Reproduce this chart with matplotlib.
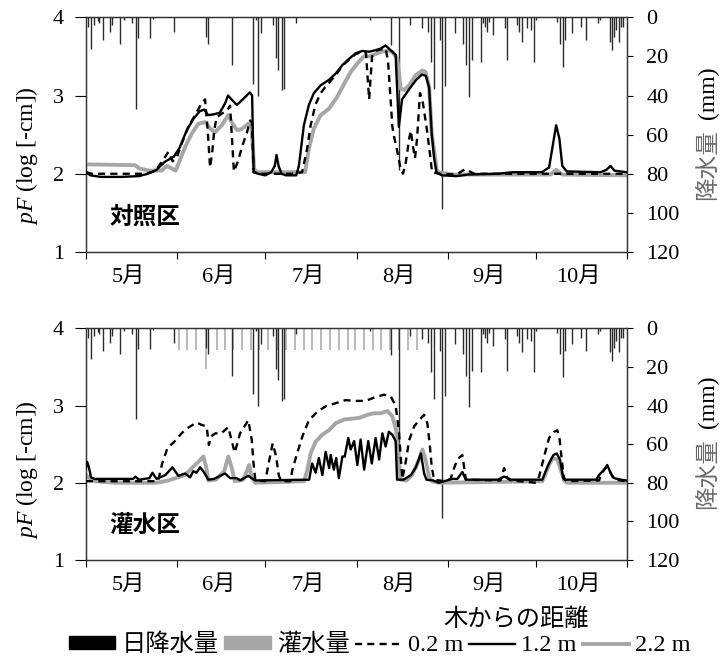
import matplotlib
matplotlib.use('Agg')
import matplotlib.pyplot as plt
from matplotlib.lines import Line2D
from matplotlib.patches import Patch

plt.rcParams['font.family'] = ['Liberation Serif', 'Noto Sans CJK JP']
plt.rcParams['mathtext.fontset'] = 'custom'
plt.rcParams['mathtext.it'] = 'Liberation Serif:italic'
plt.rcParams['mathtext.rm'] = 'Liberation Serif'

# ---------------- data (day 0 = 1 May) ----------------
month_starts = [0, 31, 61, 92, 123, 153, 184]
month_labels = ['5月', '6月', '7月', '8月', '9月', '10月']

rain_day = [0.8, 1.8, 2.6, 4.0, 4.5, 5.7, 8.1, 8.8, 11.6, 13.0,
            15.6, 17.0, 17.8, 21.9, 22.8, 29.9, 40.7, 41.4, 49.6, 56.7,
            57.7, 58.5, 59.4, 63.5, 64.7, 65.4, 66.6, 67.4, 71.4, 96.5,
            103.6, 106.3, 110.3, 114.2, 116.4, 117.3, 118.3, 120.4, 121.2, 122.2,
            125.5, 128.1, 129.4, 130.3, 131.2, 134.4, 135.0, 135.8, 136.4, 137.1,
            138.4, 142.4, 143.3, 146.6, 147.4, 148.2, 150.1, 151.3, 152.3, 153.1,
            160.3, 161.2, 162.1, 163.0, 165.2, 168.3, 170.2, 174.0, 174.7, 178.1,
            178.9, 179.6, 180.4, 181.3, 182.0, 182.7]
rain_mm = [4.8, 16, 4, 2, 3, 11.7, 7.4, 4, 13.4, 1.4,
           3, 46.8, 10.8, 10.8, 1, 7.7, 10, 13.4, 24.5, 34,
           1.4, 40, 8, 4, 21, 27, 37.4, 36.5, 3, 1.4,
           14, 78, 4, 5.7, 7.4, 22.8, 36.5, 11.7, 98, 35,
           8.2, 13.4, 24.5, 40.8, 22, 22.8, 3, 4.8, 7.4, 2.2,
           9, 5.7, 22, 4, 7.4, 12.5, 5.7, 6.5, 22.8, 1.4,
           2.2, 13.4, 25.4, 11.7, 8.2, 4.8, 11.7, 3, 1.4, 12.5,
           16.8, 10, 6.5, 12.5, 4.8, 4.8]

irr_day = [31.5, 34.5, 37.5, 40.7, 44.5, 47.3, 50, 53, 56, 59, 62, 65, 68, 71,
           74, 77, 80, 83, 86, 89, 91.5, 94.5, 97.5, 100.5, 103.5, 106.5, 109.6, 112.7]
irr_mm = [11, 11, 11, 21, 11, 11, 11, 11, 11, 11, 11, 11, 11, 11,
          11, 11, 11, 11, 11, 11, 11, 11, 11, 11, 11, 11, 11, 11]

# ---- control plot (対照区) ----
top_d02 = [0, 2, 10, 20, 23.5, 26.3, 28.0, 29.4, 30.8, 32.5, 34.8, 37.1, 39.3, 40.5,
           41.4, 42.2, 43.0, 43.6, 44.4, 46.2, 47.8, 49.0, 49.5, 50.3, 51.8, 53.0,
           54.7, 55.8, 56.4, 57.0, 60, 65, 70, 73.5, 74.7, 75.2, 76.4, 78.0, 79.8,
           81.4, 84.9, 87.2, 89.5, 91.7, 94.0, 95.2, 96.3, 97.3, 98.5, 100.2, 101.9,
           102.7, 103.6, 104.2, 104.8, 105.8, 106.8, 107.8, 108.8, 109.9, 110.5,
           111.2, 111.9, 112.6, 113.6, 114.6, 116.0, 117.0, 117.7, 120, 126, 129,
           132, 150, 183.7]
top_v02 = [2.02, 2.0, 2.0, 2.0, 2.03, 2.18, 2.28, 2.16, 2.2, 2.38, 2.6, 2.75, 2.9, 2.95,
           2.55, 2.08, 2.3, 2.55, 2.72, 2.77, 2.8, 2.87, 2.55, 2.03, 2.17, 2.34,
           2.52, 2.68, 2.66, 2.02, 2.0, 2.0, 2.0, 2.02, 2.23, 2.32, 2.62, 2.88, 3.03,
           3.11, 3.26, 3.38, 3.46, 3.53, 3.56, 3.55, 2.95, 3.5, 3.57, 3.59, 3.6,
           3.45, 2.95, 2.6, 2.47, 2.3, 2.1, 2.0, 2.15, 2.45, 2.55,
           2.35, 2.2, 2.45, 3.03, 2.9, 2.55, 2.25, 2.02, 2.0, 1.99, 2.06,
           2.0, 2.0, 2.0]

top_d12 = [0, 1.5, 5, 12, 18, 21, 24, 26.7, 29.9, 31.8, 34.2, 36.5, 38.7, 40.2, 41.5,
           43.5, 45.5, 47.3, 48.3, 49.5, 51.3, 53.3, 55.7, 56.5, 57.0, 58.5, 61,
           63, 64.2, 64.8, 65.5, 66.5, 68, 71.5, 72.4, 74.1, 75.8, 77.5, 79.8, 82.6,
           84.9, 87.2, 89.5, 91.7, 94.0, 96.3, 98.5, 100.2, 101.9, 103.6, 105.3,
           106.4, 107.5, 109.9, 112.3, 114.3, 115.6, 116.7, 117.6, 118.4, 119.2,
           121, 126, 130, 140, 145, 155, 157.5, 158.7, 159.9, 161.0, 162.0, 163.5,
           175, 177, 178.4, 179.7, 183.7]
top_v12 = [2.02, 1.98, 1.96, 1.96, 1.97, 2.0, 2.05, 2.15, 2.22, 2.33, 2.55, 2.7, 2.8, 2.82, 2.75,
           2.76, 2.78, 2.9, 3.0, 2.95, 2.88, 2.95, 3.04, 3.0, 2.02, 2.0, 1.98,
           2.02, 2.1, 2.24, 2.1, 2.0, 1.98, 1.98, 2.1, 2.62, 2.88, 3.03, 3.13, 3.2,
           3.28, 3.39, 3.47, 3.54, 3.57, 3.56, 3.58, 3.6, 3.64, 3.58, 3.52,
           2.6, 2.95, 3.08, 3.2, 3.27, 3.25, 3.1, 2.5, 2.2, 2.02,
           1.98, 1.97, 1.99, 2.0, 2.02, 2.02, 2.08, 2.35, 2.62, 2.45, 2.1, 2.03,
           2.02, 2.05, 2.1, 2.04, 2.02]

top_d22 = [0, 16.7, 18, 21.4, 25.7, 27.5, 30.5, 33.7, 35.9, 38.2, 40.5, 42.2, 43.9,
           46.2, 48.4, 49.7, 51.3, 52.9, 55.2, 56.3, 57.2, 58.2, 74.5, 75.8, 77.5,
           79.8, 82.6, 85.4, 87.8, 90.0, 92.3, 94.5, 96.3, 98.5, 100.2, 102.5,
           104.2, 105.9, 107.0, 108.2, 109.9, 112.1, 114.4, 115.5, 116.7, 117.6,
           118.4, 119.4, 125, 158, 159.9, 162, 183.7]
top_v22 = [2.12, 2.11, 2.07, 2.04, 2.04, 2.1, 2.04, 2.34, 2.51, 2.64, 2.66, 2.58, 2.53,
           2.62, 2.75, 2.65, 2.56, 2.57, 2.64, 2.6, 2.06, 2.02, 2.02, 2.32, 2.58,
           2.75, 2.83, 2.98, 3.15, 3.3, 3.41, 3.5, 3.5, 3.53, 3.56, 3.57,
           3.56, 3.47, 3.09, 3.07, 3.13, 3.26, 3.32, 3.3, 3.11, 2.51,
           2.3, 2.02, 1.99, 1.99, 2.05, 1.99, 1.98]

# ---- irrigated plot (灌水区) ----
bot_d02 = [0, 24.5, 25.9, 27.7, 30.0, 32.5, 34.2, 37.6, 39.3, 41.0, 41.8, 42.5, 44.0,
           46.0, 48.4, 49.5, 50.6, 52.4, 55.2, 56.4, 56.9, 57.6, 61.0, 62.1, 63.5,
           64.6, 65.6, 66.5, 69.5, 70.2, 71.8, 73.6, 75.8, 78.7, 81.5, 84.9, 88.3,
           91.7, 95.1, 98.5, 101.3, 103.6, 105.3, 106.4, 107.0, 107.6, 108.7,
           109.9, 111.6, 113.3, 115.0, 116.1, 116.9, 117.6, 118.4, 122, 124,
           125.2, 126.3, 128.0, 128.6, 129.2, 141, 142.2, 143.3, 144.5, 153,
           154.1, 155.8, 157.5, 159.2, 160.3, 161.1, 161.8, 162.6, 163.5, 174.5,
           175.1, 176.8, 177.9, 179.6, 183.7]
bot_v02 = [2.02, 2.02, 2.25, 2.45, 2.53, 2.64, 2.7, 2.78, 2.75, 2.73, 2.49, 2.6, 2.64,
           2.64, 2.72, 2.55, 2.39, 2.64, 2.81, 2.55, 2.28, 2.03, 2.02, 2.25, 2.51,
           2.35, 2.09, 2.02, 2.02, 2.17, 2.38, 2.6, 2.81, 2.92, 2.99, 3.03, 3.07,
           3.06, 3.06, 3.11, 3.14, 3.12, 3.0, 2.68, 2.35, 2.05, 2.26,
           2.55, 2.73, 2.81, 2.88, 2.77, 2.5, 2.2, 2.04, 2.02, 2.05,
           2.19, 2.3, 2.36, 2.2, 2.04, 2.03, 2.19, 2.06, 2.03, 2.0,
           2.08, 2.34, 2.58, 2.66, 2.68, 2.56, 2.3, 2.05, 2.02, 2.03,
           2.1, 2.2, 2.17, 2.04, 2.02]

bot_d12 = [0, 0.4, 1.0, 1.7, 3, 16, 16.8, 18, 21.6, 22.6, 24, 27, 29.4, 31.4, 33.7,
           35.4, 36.5, 37.6, 38.8, 39.9, 41.6, 43.5, 47.3, 49.0, 51.3, 52.4, 55.2,
           56.3, 57.6, 75.9, 76.9, 78.1, 79.2, 80.4, 81.5, 82.7, 83.2, 84.3, 85.1,
           86.0, 87.2, 88.0, 89.2, 90.0, 91.2, 92.3, 93.4, 94.6, 96.0, 97.2, 98.5,
           99.7, 100.8, 101.9, 103.0, 104.2, 105.3, 105.8, 108, 110.5, 112.2,
           113.9, 115.0, 115.8, 118, 120, 124.6, 126.3, 128.0, 129.2, 140, 142.2,
           144.5, 155.2, 157.3, 159.0, 160.1, 161.2, 162.3, 163.3, 173.5, 174.5,
           176.2, 177.3, 178.5, 179.6, 181.9, 183.7]
bot_v12 = [2.2, 2.27, 2.2, 2.07, 2.05, 2.05, 2.08, 2.04, 2.06, 2.13, 2.05, 2.1, 2.2, 2.09, 2.12,
           2.07, 2.15, 2.13, 2.2, 2.15, 2.04, 2.05, 2.12, 2.06, 2.06, 2.03, 2.09,
           2.06, 2.03, 2.04, 2.25, 2.13, 2.32, 2.1, 2.4, 2.19, 2.36, 2.17, 2.32,
           2.06, 2.34, 2.34, 2.58, 2.43, 2.54, 2.23, 2.56, 2.17, 2.54, 2.25, 2.58,
           2.3, 2.64, 2.47, 2.66, 2.62, 2.54, 2.04, 2.04, 2.1, 2.2,
           2.38, 2.12, 2.04, 2.03, 2.0, 2.05, 2.05, 2.14, 2.04, 2.04, 2.08,
           2.04, 2.04, 2.24, 2.36, 2.38, 2.3, 2.06, 2.04, 2.04, 2.1,
           2.17, 2.23, 2.12, 2.06, 2.04, 2.03]

bot_d22 = [0, 1.5, 3, 10, 24, 28, 33.7, 36.0, 38.2, 39.9, 40.9, 41.6, 44.2, 47.0, 48.4,
           49.5, 50.6, 53.5, 54.7, 55.5, 56.3, 57.5, 74.2, 75.3, 76.4, 78.1, 80.3,
           82.6, 84.9, 87.8, 90.6, 92.9, 95.7, 97.9, 100.2, 102.5, 104.2, 105.5,
           106.4, 107.0, 109.0, 110.9, 113.3, 114.4, 115.5, 116.7, 117.7, 120,
           155.2, 157.5, 158.7, 160.3, 161.5, 162.6, 163.5, 183.7]
bot_v22 = [2.1, 2.05, 2.02, 2.0, 2.0, 2.03, 2.1, 2.19, 2.27, 2.34, 2.2, 2.03, 2.04, 2.15, 2.34,
           2.2, 2.02, 2.04, 2.15, 2.23, 2.08, 2.0, 2.02, 2.17, 2.38, 2.53, 2.62,
           2.68, 2.77, 2.82, 2.83, 2.84, 2.88, 2.9, 2.9, 2.93, 2.86, 2.68,
           2.3, 2.04, 2.03, 2.1, 2.3, 2.43, 2.3, 2.07, 2.02, 2.0,
           2.02, 2.23, 2.32, 2.3, 2.17, 2.03, 2.0, 2.0]

# ---------------- figure ----------------
W, H = 725, 657
fig = plt.figure(figsize=(W / 100, H / 100), dpi=100)

GRAY = '#a6a6a6'
TICK_FS = 16


def panel(rect, d02, v02, d12, v12, d22, v22, label, irrigation):
    ax = fig.add_axes(rect)
    axr = ax.twinx()
    # precipitation (secondary, inverted)
    axr.set_ylim(120, 0)
    if irrigation:
        axr.vlines(irr_day, 0, irr_mm, color='#b3b3b3', lw=1.3, zorder=1)
    axr.vlines(rain_day, 0, rain_mm, color='#2a2a2a', lw=1.0, zorder=2)
    axr.set_yticks([0, 20, 40, 60, 80, 100, 120])
    axr.tick_params(axis='y', direction='out', length=4, pad=10,
                    labelsize=TICK_FS, width=0.8)
    # pF curves above rain
    ax.set_zorder(axr.get_zorder() + 1)
    ax.patch.set_visible(False)
    ax.plot(d22, v22, color=GRAY, lw=2.8, solid_joinstyle='round', zorder=2)
    ax.plot(d12, v12, color='black', lw=1.7, zorder=3)
    ax.plot(d02, v02, color='black', lw=1.7, linestyle=(0, (3, 2.2)), zorder=4)
    ax.set_xlim(0, 184)
    ax.set_ylim(1, 4)
    ax.set_yticks([1, 2, 3, 4])
    ax.tick_params(axis='y', direction='out', length=8, pad=8,
                   labelsize=TICK_FS, width=0.8)
    ax.set_xticks(month_starts)
    ax.set_xticklabels([])
    ax.tick_params(axis='x', which='major', direction='out', length=5, width=0.8)
    mids = [(month_starts[i] + month_starts[i + 1]) / 2 - 1 for i in range(6)]
    ax.set_xticks(mids, minor=True)
    ax.set_xticklabels(month_labels, minor=True)
    ax.tick_params(axis='x', which='minor', length=0, pad=11, labelsize=TICK_FS)
    for a in (ax, axr):
        for s in a.spines.values():
            s.set_linewidth(0.9)
            s.set_color('#333333')
    ax.text(0.043, 0.15, label, transform=ax.transAxes, fontsize=17,
            fontweight='bold', va='center', ha='left',
            family=['Noto Sans CJK JP'])
    return ax, axr


ax_w = 541 / W
panel([86 / W, 1 - 252 / H, ax_w, 234.7 / H], top_d02, top_v02, top_d12, top_v12,
      top_d22, top_v22, '対照区', False)
panel([86 / W, 1 - 560 / H, ax_w, 231.7 / H], bot_d02, bot_v02, bot_d12, bot_v12,
      bot_d22, bot_v22, '灌水区', True)

# y labels
for yl, yr in ((156, 135), (470, 444)):
    fig.text(27 / W, 1 - yl / H, r'$pF$ (log [-cm])', rotation=90, fontsize=17,
             ha='center', va='center')
    fig.text(708 / W, 1 - (yr + 30) / H, '降水量', rotation=90, fontsize=17,
             ha='center', va='center', color='#6a6a6a')
    fig.text(708 / W, 1 - (yr - 42) / H, '(mm)', rotation=90, fontsize=17,
             ha='center', va='center')

# legend
fig.text(516 / W, 1 - 620 / H, '木からの距離', fontsize=17.5, ha='center', va='center')
handles = [Patch(facecolor='black', edgecolor='black'),
           Patch(facecolor=GRAY, edgecolor=GRAY),
           Line2D([], [], color='black', lw=1.7, linestyle=(0, (3, 2.2))),
           Line2D([], [], color='black', lw=1.7),
           Line2D([], [], color=GRAY, lw=2.8)]
labels = ['日降水量', '灌水量', '0.2 m', '1.2 m', '2.2 m']
fig.legend(handles, labels, loc='center', bbox_to_anchor=(380 / W, 1 - 645 / H),
           ncol=5, frameon=False, fontsize=17.5, handlelength=1.9,
           handletextpad=0.25, columnspacing=0.25, handleheight=0.45,
           borderpad=0, borderaxespad=0)

fig.savefig('out.png', dpi=100)
